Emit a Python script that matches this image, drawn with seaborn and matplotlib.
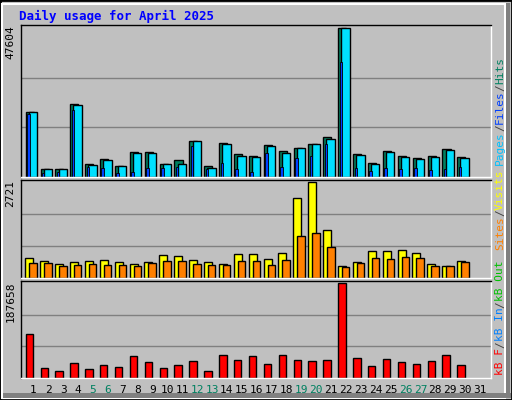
import matplotlib
matplotlib.use("Agg")
import matplotlib.pyplot as plt
import seaborn as sns
import pandas as pd
from matplotlib.patches import Rectangle

sns.set_style("white")
plt.rcParams['font.family'] = ['DejaVu Sans Mono', 'DejaVu Sans']

days = list(range(1, 31))
day_labels = [str(d) for d in range(1, 32)]
weekend_days = [5, 6, 12, 13, 19, 20, 26, 27]
hits = [20786, 2693, 2693, 23371, 4308, 5600, 3446, 7862, 7862, 4308, 5277, 11416, 3446, 10770, 7216,
        6570, 10124, 8185, 9155, 10447, 12709, 47604, 7216, 4631, 8185, 6570, 5924, 6570, 8831, 6247]
files = [20786, 2693, 2693, 23048, 3985, 5277, 3446, 7539, 7539, 4308, 4308, 11416, 3016, 10447, 6570,
         6247, 9801, 7539, 9155, 10447, 12062, 47604, 6893, 4308, 7862, 6247, 5600, 6247, 8508, 5924]
pages = [20140, 1400, 1723, 21540, 3339, 3016, 1400, 1723, 3016, 3016, 3339, 9801, 2693, 4631, 2693,
         1723, 7539, 3339, 5924, 6570, 10447, 36618, 3016, 2046, 3016, 2693, 3016, 2369, 2693, 3339]
visits = [570, 481, 393, 452, 481, 511, 452, 393, 452, 658, 628, 511, 452, 393, 687,
          687, 540, 717, 2278, 2721, 1365, 334, 452, 776, 776, 805, 717, 393, 334, 481]
sites = [422, 422, 334, 363, 393, 363, 363, 334, 422, 481, 481, 393, 363, 363, 481,
         481, 363, 511, 1188, 1277, 864, 304, 422, 570, 540, 599, 570, 334, 334, 452]
kbytes = [86982, 19177, 13013, 29450, 17122, 25341, 21232, 43834, 31505, 19177, 25341, 33560, 13013, 45888, 35615,
          43834, 27396, 45888, 35615, 33560, 35615, 187658, 39724, 23287, 37670, 31505, 27396, 33560, 45888, 25341]

W, H = 512, 400
BG = "#c0c0c0"
fig = plt.figure(figsize=(W / 100, H / 100), dpi=100, facecolor=BG)
renderer = fig.canvas.get_renderer()

def px_axes(x0, y0, x1, y1):
    return fig.add_axes([x0 / W, 1 - y1 / H, (x1 - x0) / W, (y1 - y0) / H])

# bevel
fig.patches.append(Rectangle((0, 0), 1, 1, transform=fig.transFigure, fill=False, edgecolor="black", lw=2))
fig.patches.append(Rectangle((2 / W, 2 / H), 1 - 9 / W, 1 - 6 / H, transform=fig.transFigure, fill=False, edgecolor="white", lw=1.5))
fig.patches.append(Rectangle((3 / W, 2 / H), 1 - 4 / W, 5 / H, transform=fig.transFigure, color="#808080", lw=0))
fig.patches.append(Rectangle((1 - 6 / W, 2 / H), 4 / W, 1 - 5 / H, transform=fig.transFigure, color="#808080", lw=0))

fig.text(19 / W, 1 - 16 / H, "Daily usage for April 2025", color="#0000ff", fontsize=9,
         fontweight="bold", va="center", ha="left")

XL = (0.17, 31.74)

def setup(ax, top, label):
    ax.set_facecolor(BG)
    ax.set_xlim(*XL)
    ax.set_ylim(0, top * 1.02)
    for t in (top / 3, 2 * top / 3):
        ax.axhline(t, color="#808080", lw=1, zorder=0)
    ax.set_xticks([]); ax.set_yticks([])
    ax.set_xlabel(""); ax.set_ylabel("")
    for s in ax.spines.values():
        s.set_color("black"); s.set_linewidth(1)
    ax.spines["right"].set_color("white"); ax.spines["bottom"].set_color("white")
    ax.text(-0.012, 1.0, label, transform=ax.transAxes, rotation=90, ha="right", va="top",
            fontsize=8, color="black")

def bars(ax, vals, off, width, color, lw=1.0):
    df = pd.DataFrame({"x": [d + off for d in days], "y": vals})
    sns.barplot(data=df, x="x", y="y", native_scale=True, width=width, color=color,
                edgecolor="black", linewidth=lw, saturation=1, ax=ax, errorbar=None)

def right_label(ax, parts, ystart_px):
    # ystart_px: bottom of label in figure pixels from top
    y = H - ystart_px
    for txt, col in parts:
        t = fig.text(500 / W, y / H, txt, rotation=90, ha="center", va="bottom",
                     fontsize=8, color=col)
        ext = t.get_window_extent(renderer)
        y += ext.height

ax1 = px_axes(21, 25, 491, 177)
bars(ax1, hits, -0.25, 0.54, "#008060")
bars(ax1, files, -0.03, 0.56, "#00e0ff")
bars(ax1, pages, -0.34, 0.17, "#0040ff", lw=0.6)
setup(ax1, 47604, "47604")
right_label(ax1, [("Pages", "#00c0ff"), ("/", "#404040"), ("Files", "#0040ff"), ("/", "#404040"), ("Hits", "#008060")], 165)

ax2 = px_axes(21, 180, 491, 278)
bars(ax2, visits, -0.27, 0.54, "#ffff00")
bars(ax2, sites, -0.02, 0.5, "#ff8000")
setup(ax2, 2721, "2721")
right_label(ax2, [("Sites", "#ff8000"), ("/", "#404040"), ("Visits", "#ffff00")], 250)

ax3 = px_axes(21, 281, 491, 378)
bars(ax3, kbytes, -0.27, 0.5, "#ff0000")
setup(ax3, 187658, "187658")
right_label(ax3, [("kB F", "#ff0000"), ("/", "#404040"), ("kB In", "#0080ff"), ("/", "#404040"), ("kB Out", "#00c000")], 375)

for i, lab in enumerate(day_labels):
    d = i + 1
    ax3.text(d, -0.12, lab, transform=ax3.get_xaxis_transform(), ha="center", va="center",
             fontsize=8, color="#008060" if d in weekend_days else "black")

fig.savefig("out.png", dpi=100, facecolor=BG)
